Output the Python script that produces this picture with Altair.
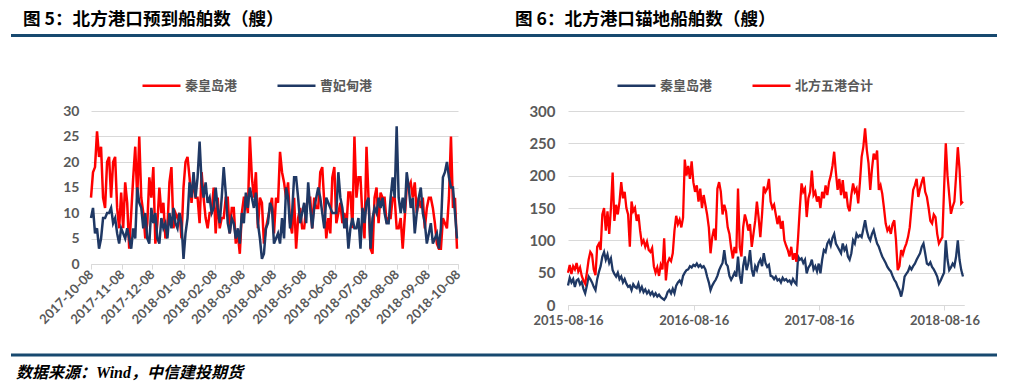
import altair as alt
import pandas as pd

# ---------------- data ----------------
left_start = "2017-10-08"
left_step_days = 2
left_series = ["秦皇岛港", "曹妃甸港"]
qhd_arrive = [
    13, 18, 19, 26, 21, 23, 13, 11, 20, 21,
    13, 20, 21, 11, 7, 14, 7, 16, 12, 3,
    10, 17, 23, 13, 25, 13, 10, 5, 8, 17,
    13, 19, 4, 8, 15, 10, 12, 5, 7, 16,
    19, 7, 10, 9, 10, 5, 15, 20, 21, 17,
    12, 17, 13, 13, 8, 18, 13, 9, 7, 10,
    10, 15, 6, 13, 7, 9, 9, 13, 13, 6,
    11, 11, 4, 6, 2, 10, 13, 13, 10, 25,
    17, 13, 18, 7, 13, 12, 4, 7, 9, 11,
    13, 6, 13, 12, 22, 18, 16, 13, 16, 8,
    6, 13, 3, 9, 11, 7, 7, 11, 13, 13,
    7, 13, 11, 11, 18, 19, 12, 5, 9, 6,
    17, 19, 8, 10, 12, 8, 10, 7, 14, 14,
    7, 25, 13, 17, 17, 9, 5, 23, 13, 3,
    2, 13, 15, 8, 14, 13, 13, 8, 9, 9,
    13, 13, 7, 7, 9, 3, 9, 15, 15, 16,
    13, 16, 10, 13, 11, 13, 7, 11, 13, 13,
    11, 8, 4, 3, 3, 9, 8, 7, 13, 25,
    11, 13, 3,
]
cfd_arrive = [
    9, 11, 6, 7, 3, 5, 9, 9, 10, 10,
    11, 8, 9, 6, 4, 7, 6, 5, 7, 5,
    3, 7, 5, 15, 12, 11, 7, 10, 5, 4,
    11, 8, 10, 5, 4, 9, 7, 8, 5, 10,
    7, 11, 8, 7, 10, 8, 1, 6, 9, 16,
    13, 18, 13, 17, 24, 16, 13, 16, 12, 13,
    10, 11, 15, 11, 8, 13, 19, 14, 8, 6,
    9, 8, 5, 7, 4, 10, 8, 14, 11, 15,
    13, 11, 14, 8, 5, 1, 2, 7, 8, 12,
    11, 4, 5, 6, 4, 9, 5, 15, 13, 7,
    10, 17, 17, 13, 8, 10, 12, 8, 16, 11,
    7, 11, 13, 15, 13, 10, 7, 13, 12, 11,
    10, 10, 10, 18, 13, 11, 7, 9, 3, 7,
    9, 7, 7, 9, 3, 11, 8, 12, 13, 3,
    9, 11, 10, 13, 11, 13, 10, 8, 8, 13,
    17, 13, 27, 13, 10, 13, 10, 18, 15, 11,
    13, 6, 10, 13, 15, 10, 8, 4, 6, 8,
    4, 5, 6, 3, 7, 17, 18, 20, 17, 15,
    15, 10, 5,
]
left_ticks = ["2017-10-08", "2017-11-08", "2017-12-08", "2018-01-08", "2018-02-08",
              "2018-03-08", "2018-04-08", "2018-05-08", "2018-06-08", "2018-07-08",
              "2018-08-08", "2018-09-08", "2018-10-08"]

right_start = "2015-08-16"
right_step_days = 5
right_end = "2018-10-12"
right_series = ["秦皇岛港", "北方五港合计"]
qhd_anchor = [
    30, 42, 35, 40, 28, 38, 40, 32, 36, 25,
    18, 30, 44, 40, 35, 28, 23, 40, 51, 60,
    75, 82, 70, 78, 65, 72, 54, 48, 44, 50,
    40, 44, 35, 40, 33, 28, 30, 23, 32, 28,
    26, 33, 22, 28, 20, 24, 18, 22, 16, 20,
    14, 18, 13, 16, 12, 10, 8, 12, 20, 23,
    18, 25, 18, 30, 35, 38, 33, 45, 50, 54,
    55, 60, 58, 62, 60, 64, 59, 62, 58, 60,
    55, 44, 35, 23, 30, 35, 39, 45, 54, 60,
    65, 85, 64, 60, 45, 39, 44, 50, 44, 75,
    45, 33, 60, 75, 54, 64, 85, 55, 44, 60,
    54, 65, 70, 60, 80, 65, 59, 62, 45, 44,
    40, 44, 38, 40, 35, 42, 38, 40, 36, 38,
    33, 40, 35, 32, 75, 70, 72, 65, 70, 49,
    58, 62, 70, 55, 60, 52, 64, 49, 70, 85,
    82, 95, 100, 92, 104, 110, 95, 90, 85, 80,
    95, 85, 90, 75, 70, 80, 100, 95, 110, 105,
    108, 105, 118, 131, 115, 105, 100, 110, 116, 105,
    95, 90, 82, 75, 70, 65, 59, 55, 52, 45,
    39, 35, 28, 23, 13, 25, 44, 48, 52, 59,
    55, 60, 64, 70, 75, 80, 90, 95, 80, 64,
    62, 66, 59, 55, 50, 44, 33, 38, 44, 50,
    100, 70, 54, 58, 64, 60, 75, 100, 70, 54,
    44,
]
north5_anchor = [
    50, 62, 48, 60, 55, 65, 52, 58, 45, 38,
    33, 50, 70, 82, 78, 55, 46, 90, 95, 85,
    140, 150, 115, 145, 110, 150, 205, 130, 155, 140,
    160, 190, 165, 175, 150, 140, 90, 160, 145, 150,
    130, 140, 115, 95, 100, 90, 98, 85, 82, 88,
    60, 50, 58, 45, 62, 55, 103, 38, 65, 72,
    68, 80, 115, 138, 125, 132, 120, 135, 225, 200,
    215, 195, 222, 190, 175, 185, 160, 180, 150, 170,
    155, 140, 120, 80, 105, 118, 100, 180, 190, 175,
    140, 155, 145, 120, 110, 88, 72, 90, 80, 180,
    90, 75, 120, 140, 130, 115, 125, 90, 110, 130,
    160, 135, 105, 140, 183, 175, 180, 195, 160, 150,
    155, 140, 125, 138, 118, 130, 100, 92, 85, 75,
    90, 70, 80, 67, 105, 150, 188, 175, 180, 136,
    165, 175, 208, 170, 175, 160, 168, 150, 175, 165,
    185, 170, 190, 200, 215, 237, 205, 178, 195, 170,
    193, 165, 175, 152, 145, 170, 188, 175, 180, 157,
    190, 229, 245, 273, 240, 219, 178, 210, 234, 225,
    239, 178, 185, 172, 150, 126, 115, 120, 110, 125,
    131, 100, 54, 60, 85, 78, 88, 95, 105, 120,
    150, 178, 185, 195, 167, 180, 190, 198, 175, 167,
    150, 130, 126, 140, 136, 110, 95, 100, 105, 180,
    250, 200, 170, 141, 152, 160, 200, 244, 210, 157,
    160,
]
right_ticks = ["2015-08-16", "2016-08-16", "2017-08-16", "2018-08-16"]

title_left = "图 5：北方港口预到船舶数（艘）"
title_right = "图 6：北方港口锚地船舶数（艘）"
source_text = "数据来源：Wind，中信建投期货"

# ---------------- helpers ----------------
RED = "#FF0000"
NAVY = "#1F3864"
BAR = "#17496F"
GRID = "#D9D9D9"
LABEL = "#595959"
CJK = "Noto Sans CJK SC"
NUM = "Lato"
DATE_EXPR = "utcFormat(datum.value, '%Y-%m-%d')"


def ms(s):
    return int(pd.Timestamp(s, tz="UTC").timestamp() * 1000)


def dates(start, step, n):
    return [ms(d.strftime("%Y-%m-%d")) for d in pd.date_range(start, periods=n, freq=f"{step}D")]


ld = dates(left_start, left_step_days, len(qhd_arrive))
left_df = pd.DataFrame({
    "date": ld + ld,
    "value": qhd_arrive + cfd_arrive,
    "series": [left_series[0]] * len(ld) + [left_series[1]] * len(ld),
})

rd = dates(right_start, right_step_days, len(qhd_anchor))
right_df = pd.DataFrame({
    "date": rd + rd,
    "value": qhd_anchor + north5_anchor,
    "series": [right_series[0]] * len(rd) + [right_series[1]] * len(rd),
})


def legend(x):
    return alt.Legend(orient="none", legendX=x, legendY=-46, direction="horizontal", title=None,
                      symbolType="stroke", symbolSize=1444, symbolStrokeWidth=2.5,
                      labelFont=CJK, labelFontSize=13, labelFontWeight="bold", labelColor=LABEL,
                      columnPadding=34, labelOffset=3, padding=0)


# ---------------- left chart ----------------
left_lines = alt.Chart(left_df).mark_line(strokeWidth=2.5).encode(
    x=alt.X("date:T",
            scale=alt.Scale(type="utc", domain=[ms(left_ticks[0]), ms(left_ticks[-1])]),
            axis=alt.Axis(values=[ms(t) for t in left_ticks], labelExpr=DATE_EXPR,
                          labelAngle=-45, labelAlign="right", labelBaseline="middle",
                          labelFont=NUM, labelFontSize=13, labelFontWeight="bold", labelColor=LABEL,
                          grid=False, domainColor=GRID, tickColor=GRID, tickSize=5, labelPadding=3,
                          title=None, labelOverlap=False, labelFlush=False)),
    y=alt.Y("value:Q", scale=alt.Scale(domain=[0, 30], nice=False),
            axis=alt.Axis(values=[0, 5, 10, 15, 20, 25, 30], grid=True, gridColor=GRID,
                          domain=False, ticks=False, labelPadding=12,
                          labelFont=NUM, labelFontSize=14, labelFontWeight="bold", labelColor=LABEL,
                          title=None)),
    color=alt.Color("series:N", sort=left_series,
                    scale=alt.Scale(domain=left_series, range=[RED, NAVY]),
                    legend=legend(50)),
)

one = pd.DataFrame({"k": [0]})
deco_title1 = alt.Chart(one).mark_text(align="left", baseline="middle", font=CJK, fontSize=17.6,
                                       fontWeight="bold", color="#000000").encode(
    x=alt.value(-68), y=alt.value(-91.5), text=alt.value(title_left))
deco_title2 = alt.Chart(one).mark_text(align="left", baseline="middle", font=CJK, fontSize=17.6,
                                       fontWeight="bold", color="#000000").encode(
    x=alt.value(424), y=alt.value(-91.5), text=alt.value(title_right))
deco_top = alt.Chart(one).mark_rule(color=BAR, strokeWidth=3).encode(
    x=alt.value(-80), x2=alt.value(906), y=alt.value(-75.5))
deco_bottom = alt.Chart(one).mark_rule(color=BAR, strokeWidth=3).encode(
    x=alt.value(-80), x2=alt.value(906), y=alt.value(244))
deco_source = alt.Chart(one).mark_text(align="left", baseline="middle",
                                       font="Liberation Serif, " + CJK, fontSize=16,
                                       fontWeight="bold", fontStyle="italic", color="#000000").encode(
    x=alt.value(-75), y=alt.value(261.5), text=alt.value(source_text))

left = alt.layer(left_lines, deco_title1, deco_title2, deco_top, deco_bottom, deco_source).properties(
    width=367, height=153)

# ---------------- right chart ----------------
right = alt.Chart(right_df).mark_line(strokeWidth=2.3).encode(
    x=alt.X("date:T",
            scale=alt.Scale(type="utc", domain=[ms(right_start), ms(right_end)]),
            axis=alt.Axis(values=[ms(t) for t in right_ticks], labelExpr=DATE_EXPR,
                          labelAngle=0, labelFont=NUM, labelFontSize=13, labelFontWeight="bold",
                          labelColor=LABEL, grid=False, domainColor=GRID, tickColor=GRID,
                          tickSize=5, labelPadding=4, title=None, labelFlush=False,
                          labelOverlap=False)),
    y=alt.Y("value:Q", scale=alt.Scale(domain=[0, 300], nice=False),
            axis=alt.Axis(values=[0, 50, 100, 150, 200, 250, 300], grid=True, gridColor=GRID,
                          domain=False, ticks=False, labelPadding=13,
                          labelFont=NUM, labelFontSize=15, labelFontWeight="bold", labelColor=LABEL,
                          title=None)),
    color=alt.Color("series:N", sort=right_series,
                    scale=alt.Scale(domain=right_series, range=[NAVY, RED]),
                    legend=legend(48)),
).properties(width=396, height=194)

chart = alt.hconcat(left, right, spacing=110, bounds="flush",
                    padding={"left": 1, "top": 2, "right": 0, "bottom": 0}).resolve_scale(
    x="independent", y="independent", color="independent").resolve_legend(
    color="independent").configure_view(stroke=None)

chart.save("out.html", embed_options={"renderer": "svg", "actions": False})
